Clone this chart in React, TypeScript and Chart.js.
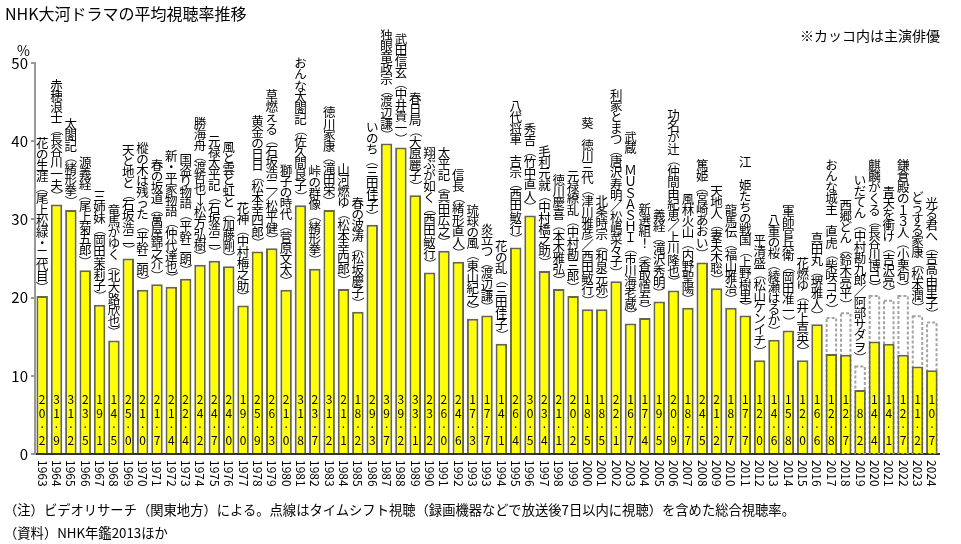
import { useEffect, useRef } from "react";
import { Chart, registerables, Plugin } from "chart.js";

Chart.register(...registerables);

const FONT = "'Noto Sans CJK JP', 'Noto Sans', sans-serif";

// 放送年（1993年は2作品）
const years = [
  "1963", "1964", "1965", "1966", "1967", "1968", "1969", "1970", "1971", "1972",
  "1973", "1974", "1975", "1976", "1977", "1978", "1979", "1980", "1981", "1982",
  "1983", "1984", "1985", "1986", "1987", "1988", "1989", "1990", "1991", "1992",
  "1993", "1993", "1994", "1995", "1996", "1997", "1998", "1999", "2000", "2001",
  "2002", "2003", "2004", "2005", "2006", "2007", "2008", "2009", "2010", "2011",
  "2012", "2013", "2014", "2015", "2016", "2017", "2018", "2019", "2020", "2021",
  "2022", "2023", "2024",
];

// 平均視聴率（%）
const ratings = [
  20.2, 31.9, 31.2, 23.5, 19.1, 14.5, 25.0, 21.0, 21.7, 21.4,
  22.4, 24.2, 24.7, 24.0, 19.0, 25.9, 26.3, 21.0, 31.8, 23.7,
  31.2, 21.1, 18.2, 29.3, 39.7, 39.2, 33.1, 23.2, 26.0, 24.6,
  17.3, 17.7, 14.1, 26.4, 30.5, 23.4, 21.1, 20.2, 18.5, 18.5,
  22.1, 16.7, 17.4, 19.5, 20.9, 18.7, 24.5, 21.2, 18.7, 17.7,
  12.0, 14.6, 15.8, 12.0, 16.6, 12.8, 12.7, 8.2, 14.4, 14.1,
  12.7, 11.2, 10.7,
];

// タイムシフト視聴を含めた総合視聴率（点線）
const totalYears = ["2017", "2018", "2019", "2020", "2021", "2022", "2023", "2024"];
const totalValues = [17.4, 18.0, 11.2, 20.2, 19.6, 20.2, 17.6, 16.8];

// 作品名（主演俳優）
const titles = [
  "花の生涯（尾上松緑・二代目）",
  "赤穂浪士（長谷川一夫）",
  "太閤記（緒形拳）",
  "源義経（尾上菊五郎）",
  "三姉妹（岡田茉莉子）",
  "竜馬がゆく（北大路欣也）",
  "天と地と（石坂浩二）",
  "樅の木は残った（平幹二朗）",
  "春の坂道（萬屋錦之介）",
  "新・平家物語（仲代達也）",
  "国盗り物語（平幹二朗）",
  "勝海舟（渡哲也→松方弘樹）",
  "元禄太平記（石坂浩二）",
  "風と雲と虹と（加藤剛）",
  "花神（中村梅之助）",
  "黄金の日日（松本幸四郎）",
  "草燃える（石坂浩二／松平健）",
  "獅子の時代（菅原文太）",
  "おんな太閤記（佐久間良子）",
  "峠の群像（緒形拳）",
  "徳川家康（滝田栄）",
  "山河燃ゆ（松本幸四郎）",
  "春の波涛（松坂慶子）",
  "いのち（三田佳子）",
  "独眼竜政宗（渡辺謙）",
  "武田信玄（中井貴一）",
  "春日局（大原麗子）",
  "翔ぶが如く（西田敏行）",
  "太平記（真田広之）",
  "信長（緒形直人）",
  "琉球の風（東山紀之）",
  "炎立つ（渡辺謙）",
  "花の乱（三田佳子）",
  "八代将軍 吉宗（西田敏行）",
  "秀吉（竹中直人）",
  "毛利元就（中村橋之助）",
  "徳川慶喜（本木雅弘）",
  "元禄繚乱（中村勘三郎）",
  "葵 徳川三代（津川雅彦／西田敏行）",
  "北条時宗（和泉元弥）",
  "利家とまつ（唐沢寿明／松嶋菜々子）",
  "武蔵 ＭＵＳＡＳＨＩ（市川海老蔵）",
  "新選組！（香取慎吾）",
  "義経（滝沢秀明）",
  "功名が辻（仲間由紀恵／上川隆也）",
  "風林火山（内野聖陽）",
  "篤姫（宮崎あおい）",
  "天地人（妻夫木聡）",
  "龍馬伝（福山雅治）",
  "江 姫たちの戦国（上野樹里）",
  "平清盛（松山ケンイチ）",
  "八重の桜（綾瀬はるか）",
  "軍師官兵衛（岡田准一）",
  "花燃ゆ（井上真央）",
  "真田丸（堺雅人）",
  "おんな城主 直虎（柴咲コウ）",
  "西郷どん（鈴木亮平）",
  "いだてん（中村勘九郎／阿部サダヲ）",
  "麒麟がくる（長谷川博己）",
  "青天を衝け（吉沢亮）",
  "鎌倉殿の１３人（小栗旬）",
  "どうする家康（松本潤）",
  "光る君へ（吉高由里子）",
];

const totals = years.map((y, i) => {
  const k = totalYears.indexOf(y);
  return i >= years.length - totalYears.length && k >= 0 ? totalValues[k] : null;
});

const ROTATED = new Set(["（", "）", "ー", "→", "～"]);

const drawVertical = (ctx: CanvasRenderingContext2D, text: string, x: number, bottom: number, pitch: number) => {
  const chars = Array.from(text);
  const n = chars.length;
  chars.forEach((ch, i) => {
    if (ch === " ") return;
    const cy = bottom - (n - i - 0.5) * pitch;
    ctx.save();
    ctx.translate(x, cy);
    if (ROTATED.has(ch)) ctx.rotate(Math.PI / 2);
    ctx.fillText(ch, 0, 0);
    ctx.restore();
  });
};

const labelPlugin: Plugin<"bar"> = {
  id: "taigaLabels",
  beforeDatasetsDraw(chart) {
    const ctx = chart.ctx;
    const meta = chart.getDatasetMeta(1);
    ctx.save();
    ctx.strokeStyle = "#a3a3a3";
    ctx.lineWidth = 2;
    ctx.setLineDash([3, 2]);
    meta.data.forEach((el: any, i) => {
      if (totals[i] == null) return;
      const { x, y, base, width } = el.getProps(["x", "y", "base", "width"], true);
      ctx.strokeRect(x - width / 2 + 1, y, width - 2, base - y);
    });
    ctx.restore();
  },
  afterDatasetsDraw(chart) {
    const ctx = chart.ctx;
    const xScale = chart.scales.x;
    const yScale = chart.scales.y;
    const base = yScale.getPixelForValue(0);
    ctx.save();
    ctx.fillStyle = "#000";
    ctx.textAlign = "center";
    ctx.textBaseline = "middle";

    // 棒の中の数値（縦書き）
    ctx.font = `12px ${FONT}`;
    ratings.forEach((v, i) => {
      const x = xScale.getPixelForValue(i);
      const chars = Array.from(v.toFixed(1));
      const n = chars.length;
      chars.forEach((ch, j) => {
        const cy = base - 14 - (n - 1 - j) * 13.5;
        ctx.fillText(ch, x, ch === "." ? cy - 3 : cy);
      });
    });

    // 作品名（縦書き）
    ctx.font = `12.5px ${FONT}`;
    titles.forEach((t, i) => {
      const top = Math.max(ratings[i], totals[i] ?? 0);
      const x = xScale.getPixelForValue(i);
      const yTop = yScale.getPixelForValue(top);
      drawVertical(ctx, t, x, yTop - 3, 11.1);
    });

    // 年（90度回転）
    ctx.font = `12px ${FONT}`;
    ctx.textAlign = "left";
    years.forEach((y, i) => {
      const x = xScale.getPixelForTick(i);
      ctx.save();
      ctx.translate(x, chart.chartArea.bottom + 6);
      ctx.rotate(Math.PI / 2);
      ctx.fillText(y, 0, 0);
      ctx.restore();
    });
    ctx.restore();
  },
};

const App = () => {
  const chartRef = useRef<Chart | null>(null);
  const chartCanvas = useRef<HTMLCanvasElement | null>(null);

  useEffect(() => {
    if (chartRef.current) {
      chartRef.current.destroy();
    }
    const context = chartCanvas.current?.getContext("2d");
    if (context) {
      chartRef.current = new Chart(context, {
        type: "bar",
        data: {
          labels: years,
          datasets: [
            {
              data: ratings,
              backgroundColor: "#ffff00",
              borderColor: "#66664a",
              borderWidth: 2,
              borderSkipped: "bottom",
              grouped: false,
              barPercentage: 0.8,
              categoryPercentage: 1,
              order: 1,
            },
            {
              data: totals,
              backgroundColor: "rgba(0,0,0,0)",
              borderWidth: 0,
              grouped: false,
              barPercentage: 0.8,
              categoryPercentage: 1,
              order: 2,
            },
          ],
        },
        options: {
          responsive: false,
          animation: false,
          events: [],
          layout: { padding: { top: 63, right: 22, bottom: 0, left: 0 } },
          plugins: {
            legend: { display: false },
            tooltip: { enabled: false },
          },
          scales: {
            x: {
              ticks: { display: false },
              grid: { display: false },
              border: { display: true, color: "#333", width: 2 },
              afterFit: (scale) => {
                scale.height = 90;
              },
            },
            y: {
              min: 0,
              max: 50,
              ticks: {
                stepSize: 10,
                color: "#000",
                padding: 3,
                font: { family: FONT, size: 15 },
              },
              grid: {
                drawOnChartArea: false,
                drawTicks: true,
                tickLength: 4,
                color: "#999",
                lineWidth: 2,
              },
              border: { display: true, color: "#999", width: 2 },
              afterFit: (scale) => {
                scale.width = 35;
              },
            },
          },
        },
        plugins: [labelPlugin],
      });
    }
    return () => {
      if (chartRef.current) {
        chartRef.current.destroy();
        chartRef.current = null;
      }
    };
  }, []);

  return (
    <div
      style={{
        position: "fixed",
        left: 0,
        top: 0,
        width: 961,
        height: 544,
        background: "#fff",
        fontFamily: FONT,
        color: "#000",
      }}
    >
      <canvas ref={chartCanvas} width={961} height={544} style={{ position: "absolute", left: 0, top: 0 }}></canvas>
      <div style={{ position: "absolute", left: 5, top: 4, fontSize: 16, lineHeight: "18px", whiteSpace: "nowrap" }}>
        NHK大河ドラマの平均視聴率推移
      </div>
      <div style={{ position: "absolute", left: 800, top: 27, fontSize: 14, lineHeight: "16px", whiteSpace: "nowrap" }}>
        ※カッコ内は主演俳優
      </div>
      <div style={{ position: "absolute", left: 17, top: 42, fontSize: 14, lineHeight: "16px" }}>%</div>
      <div style={{ position: "absolute", left: 4, top: 502, fontSize: 13.3, lineHeight: "16px", whiteSpace: "nowrap" }}>
        （注）ビデオリサーチ（関東地方）による。点線はタイムシフト視聴（録画機器などで放送後7日以内に視聴）を含めた総合視聴率。
      </div>
      <div style={{ position: "absolute", left: 4, top: 525, fontSize: 13.3, lineHeight: "16px", whiteSpace: "nowrap" }}>
        （資料）NHK年鑑2013ほか
      </div>
    </div>
  );
};

export default App;
